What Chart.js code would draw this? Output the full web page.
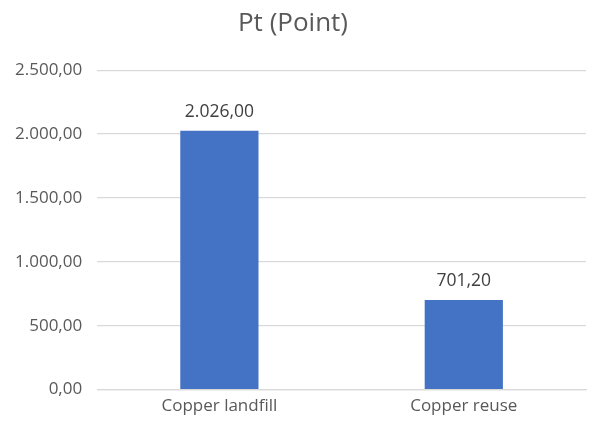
<!DOCTYPE html>
<html>
<head>
<meta charset="utf-8">
<script src="https://cdn.jsdelivr.net/npm/chart.js@4/dist/chart.umd.min.js"></script>
<style>
  html, body { margin: 0; padding: 0; background: #fff; }
  #wrap { width: 592px; height: 424px; }
</style>
</head>
<body>
<div id="wrap"><canvas id="mainChart" width="592" height="424"></canvas></div>
<script>
const categories = ['Copper landfill', 'Copper reuse'];
const points = [2026.00, 701.20];
const yTicks = [0, 500, 1000, 1500, 2000, 2500];

const fmt = (v) => v.toLocaleString('de-DE', { minimumFractionDigits: 2, maximumFractionDigits: 2 });
const FONT = '"Open Sans", "Noto Sans", sans-serif';

// draws the value above each bar
const valueLabels = {
    id: 'valueLabels',
    afterDatasetsDraw(chart) {
        const ctx = chart.ctx;
        const meta = chart.getDatasetMeta(0);
        ctx.save();
        ctx.font = '17.5px ' + FONT;
        ctx.fillStyle = '#404040';
        ctx.textAlign = 'center';
        ctx.textBaseline = 'bottom';
        meta.data.forEach((bar, i) => {
            ctx.fillText(fmt(points[i]), bar.x, bar.y - 10);
        });
        ctx.restore();
    }
};

new Chart(document.getElementById('mainChart').getContext('2d'), {
    type: 'bar',
    data: {
        labels: categories,
        datasets: [{
            data: points,
            backgroundColor: '#4472C4',
            borderWidth: 0,
            categoryPercentage: 1,
            barPercentage: 0.32
        }]
    },
    options: {
        responsive: false,
        animation: false,
        layout: { padding: { left: 0, right: 6, top: 8, bottom: 2 } },
        plugins: {
            legend: { display: false },
            tooltip: { enabled: false },
            title: {
                display: true,
                text: 'Pt (Point)',
                color: '#595959',
                font: { family: FONT, size: 26, weight: 'normal' },
                padding: { top: 0, bottom: 31 }
            }
        },
        scales: {
            y: {
                min: 0,
                max: 2500,
                afterBuildTicks: (axis) => { axis.ticks = yTicks.map(v => ({ value: v })); },
                ticks: {
                    color: '#595959',
                    font: { family: FONT, size: 17 },
                    padding: 15,
                    callback: (v) => fmt(v)
                },
                grid: { color: '#D9D9D9', lineWidth: 1.3, drawTicks: false },
                border: { display: false }
            },
            x: {
                ticks: {
                    color: '#595959',
                    font: { family: FONT, size: 17 },
                    padding: 6
                },
                grid: { display: false, drawTicks: false },
                border: { color: '#D9D9D9', width: 1.3 }
            }
        }
    },
    plugins: [valueLabels]
});
</script>
</body>
</html>
